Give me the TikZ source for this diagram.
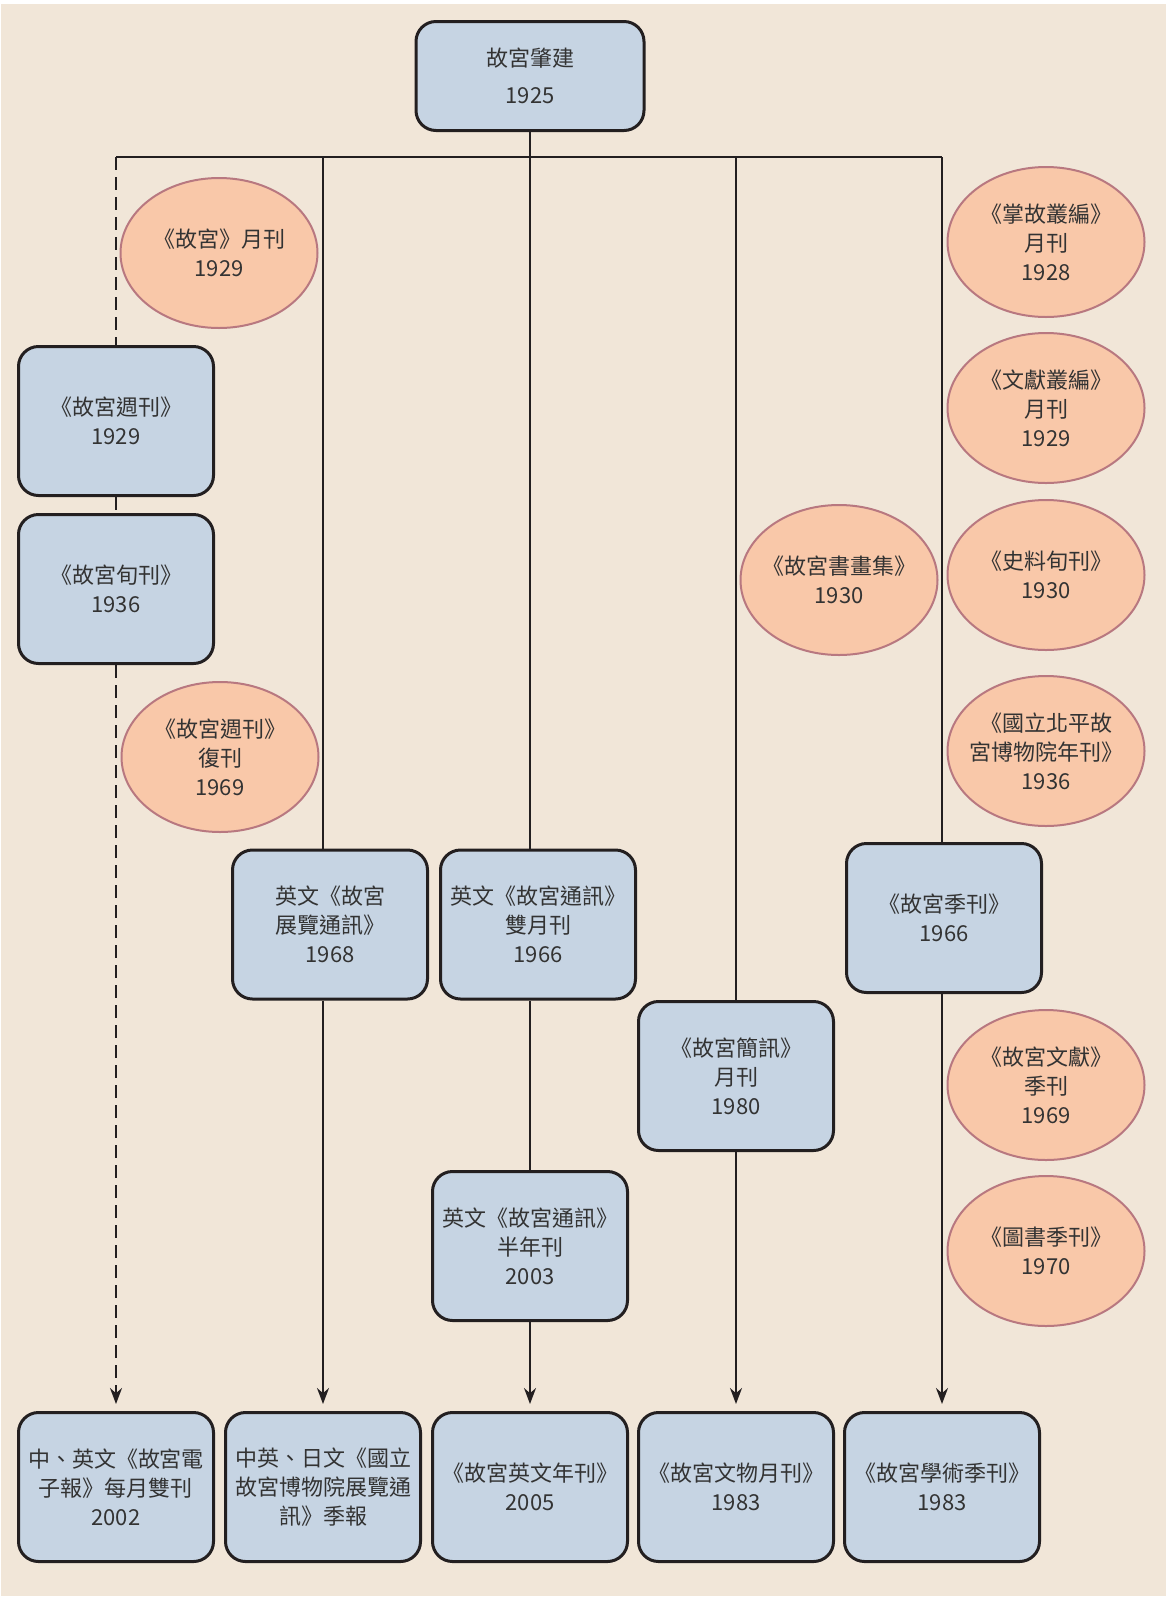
\documentclass[tikz,border=0pt]{standalone}
\usepackage{fontspec}
\newfontfamily\cjk{Noto Sans CJK TC}
\usetikzlibrary{arrows.meta,shapes.geometric}
\definecolor{bg}{HTML}{F1E6D8}
\definecolor{boxfill}{HTML}{C6D4E3}
\definecolor{ellfill}{HTML}{F9C8A9}
\definecolor{elldraw}{HTML}{B87880}
\definecolor{txt}{HTML}{333333}
\definecolor{ln}{HTML}{231F20}
\begin{document}
\begin{tikzpicture}[x=0.5pt,y=-0.5pt,
 every node/.style={font=\cjk\fontsize{11}{14.5}\selectfont, text=txt, align=center},
 pbox/.style={draw=ln, line width=1.5pt, fill=boxfill, rounded corners=10pt, minimum width=97.5pt, minimum height=74.5pt, inner sep=0pt},
 pell/.style={ellipse, draw=elldraw, line width=1pt, fill=ellfill, minimum width=98.5pt, minimum height=75pt, inner xsep=-6pt, inner ysep=0pt},
 conn/.style={draw=ln, line width=1pt},
 dconn/.style={conn, dash pattern=on 6.5pt off 3.5pt},
 arr/.style={-{Stealth[length=8pt,width=6pt]}, shorten >=3.5pt}
]
\useasboundingbox (0,0) rectangle (1166,1597);
\fill[bg] (1,4) rectangle (1166,1596);

% root
\node[pbox, minimum width=114pt, minimum height=54.5pt] (root) at (530,76) {故宮肇建\\[4pt]1925};

% boxes
\node[pbox] (wk) at (116,421) {《故宮週刊》\\1929};
\node[pbox] (xk) at (116,589) {《故宮旬刊》\\1936};
\node[pbox] (zl) at (330,924.5) {英文《故宮\\展覽通訊》\\1968};
\node[pbox] (sy) at (538,924.5) {英文《故宮通訊》\\雙月刊\\1966};
\node[pbox] (bn) at (530,1246) {英文《故宮通訊》\\半年刊\\2003};
\node[pbox] (jx) at (736,1076) {《故宮簡訊》\\月刊\\1980};
\node[pbox] (jk) at (944,918) {《故宮季刊》\\1966};

% bottom row
\node[pbox] (b1) at (116,1487) {中、英文《故宮電\\子報》每月雙刊\\2002};
\node[pbox] (b2) at (323,1487) {中英、日文《國立\\故宮博物院展覽通\\訊》季報};
\node[pbox] (b3) at (530,1487) {《故宮英文年刊》\\2005};
\node[pbox] (b4) at (736,1487) {《故宮文物月刊》\\1983};
\node[pbox] (b5) at (942,1487) {《故宮學術季刊》\\1983};

% ellipses
\node[pell] (e1) at (219,253) {《故宮》月刊\\1929};
\node[pell] (e2) at (220,757) {《故宮週刊》\\復刊\\1969};
\node[pell] (e3) at (839,580) {《故宮書畫集》\\1930};
\node[pell] (r1) at (1046,242) {《掌故叢編》\\月刊\\1928};
\node[pell] (r2) at (1046,408) {《文獻叢編》\\月刊\\1929};
\node[pell] (r3) at (1046,575) {《史料旬刊》\\1930};
\node[pell] (r4) at (1046,751) {《國立北平故\\宮博物院年刊》\\1936};
\node[pell] (r5) at (1046,1085) {《故宮文獻》\\季刊\\1969};
\node[pell] (r6) at (1046,1251) {《圖書季刊》\\1970};

% bar coordinates
\coordinate (h1) at (116,157);
\coordinate (h2) at (323,157);
\coordinate (h3) at (530,157);
\coordinate (h4) at (736,157);
\coordinate (h5) at (942,157);

% connectors
\draw[conn] (root.south) -- (h3);
\draw[conn] (h1) -- (h5);
\draw[dconn] (h1) -- (wk.north);
\draw[dconn] (wk.south) -- (xk.north);
\draw[dconn, arr] (xk.south) -- (b1.north);
\draw[conn] (h2) -- (h2 |- zl.north);
\draw[conn, arr] (h2 |- zl.south) -- (b2.north);
\draw[conn] (h3) -- (h3 |- sy.north);
\draw[conn] (h3 |- sy.south) -- (bn.north);
\draw[conn, arr] (bn.south) -- (b3.north);
\draw[conn] (h4) -- (jx.north);
\draw[conn, arr] (jx.south) -- (b4.north);
\draw[conn] (h5) -- (h5 |- jk.north);
\draw[conn, arr] (h5 |- jk.south) -- (b5.north);
\end{tikzpicture}
\end{document}
